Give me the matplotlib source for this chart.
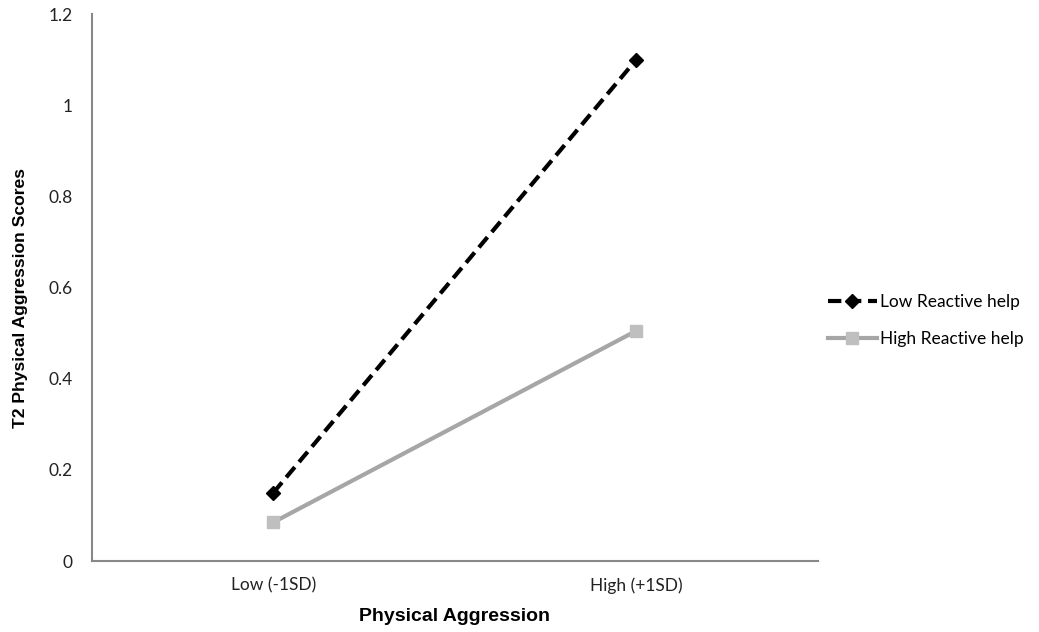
import matplotlib
matplotlib.use("Agg")
import matplotlib.pyplot as plt

categories = ['Low (-1SD)', 'High (+1SD)']
low_reactive = [0.15, 1.10]
high_reactive = [0.085, 0.505]
yticks = [0, 0.2, 0.4, 0.6, 0.8, 1, 1.2]
ytick_labels = ['0', '0.2', '0.4', '0.6', '0.8', '1', '1.2']

fig = plt.figure(figsize=(10.39, 6.32), dpi=100)
ax = fig.add_axes([0.0885, 0.1123, 0.6985, 0.8655])

x = range(len(categories))
ax.plot(x, low_reactive, color='black', linestyle=(0, (3.2, 1.6)), linewidth=3,
        marker='D', markersize=7, label='Low Reactive help')
ax.plot(x, high_reactive, color='#a6a6a6', linewidth=3,
        marker='s', markersize=9, markerfacecolor='#bfbfbf', markeredgecolor='#bfbfbf',
        label='High Reactive help')

ax.set_xlim(-0.5, 1.5)
ax.set_ylim(0, 1.2)
ax.set_xticks(list(x))
ax.set_xticklabels(categories, fontfamily='Lato', fontsize=12.5)
ax.set_yticks(yticks)
ax.set_yticklabels(ytick_labels, fontfamily='Lato', fontsize=12.5)
ax.tick_params(length=0, pad=14, colors='#222222')
ax.tick_params(axis='x', pad=12)

for s in ['top', 'right']:
    ax.spines[s].set_visible(False)
for s in ['left', 'bottom']:
    ax.spines[s].set_color('#888888')
    ax.spines[s].set_linewidth(1.5)

ax.set_xlabel('Physical Aggression', fontfamily='Liberation Sans', fontweight='bold',
              fontsize=14, labelpad=10)
ax.set_ylabel('T2 Physical Aggression Scores', fontfamily='Liberation Sans',
              fontweight='bold', fontsize=12.6, va='center')
ax.yaxis.set_label_coords(-0.099, 0.481)

ax.legend(loc='center left', bbox_to_anchor=(1.0, 0.44), frameon=False,
          prop={'family': 'Lato', 'size': 12.5}, handlelength=2.8, labelspacing=1.2,
          handletextpad=0.2, borderaxespad=0.2)

fig.savefig('out.png', dpi=100)
